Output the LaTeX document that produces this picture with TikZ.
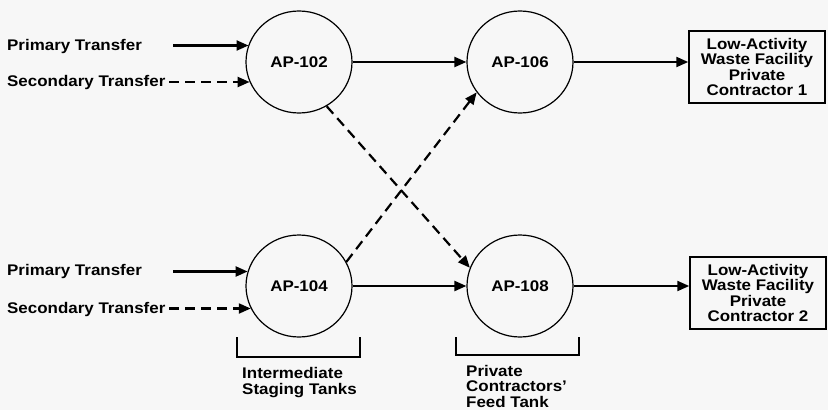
\documentclass[tikz,border=0pt]{standalone}
\usepackage{fontspec}
\setmainfont{Liberation Sans}[FakeStretch=1.1]
\usetikzlibrary{arrows.meta,shapes.geometric}
\definecolor{paper}{HTML}{F7F7F7}
\begin{document}
\begin{tikzpicture}[x=1pt,y=-1pt,
  every node/.style={font=\fontsize{15.4}{15.5}\selectfont\bfseries, inner sep=0pt},
  tank/.style={draw, ellipse, line width=1.2pt, minimum width=106pt, minimum height=102pt},
  plant/.style={draw, line width=1.5pt, minimum width=136pt, minimum height=72pt, align=center},
  lbl/.style={anchor=base west, align=left},
  flow/.style={line width=2.2pt, -{Triangle[length=12pt,width=10pt]}},
  backup/.style={flow, dash pattern=on 10pt off 6pt},
  bracket/.style={line width=1.2pt}]
  \useasboundingbox (0,0) rectangle (828,410);
  \fill[paper] (0,0) rectangle (828,410);

  % tanks
  \node[tank] (ap102) at (299,62) {AP-102};
  \node[tank] (ap106) at (520,62) {AP-106};
  \node[tank] (ap104) at (299,286) {AP-104};
  \node[tank] (ap108) at (520,286) {AP-108};

  % downstream facilities
  \node[plant] (lawa) at (757,67) {Low-Activity\\Waste Facility\\Private\\Contractor 1};
  \node[plant] (lawb) at (758,293) {Low-Activity\\Waste Facility\\Private\\Contractor 2};

  % incoming transfers
  \node[lbl] (pt1) at (7,50.7) {Primary Transfer};
  \node[lbl] (st1) at (7,86.7) {Secondary Transfer};
  \node[lbl] (pt2) at (7,275) {Primary Transfer};
  \node[lbl] (st2) at (7,313) {Secondary Transfer};
  \coordinate (pt1s) at (173,45.5);
  \coordinate (st1s) at (169,82);
  \coordinate (pt2s) at (173,271.5);
  \coordinate (st2s) at (169,308.5);

  \draw[flow]   (pt1s) -- (pt1s -| ap102.161);
  \draw[backup] (st1s) -- (st1s -| ap102.202);
  \draw[flow]   (pt2s) -- (pt2s -| ap104.164);
  \draw[backup] (st2s) -- (st2s -| ap104.205);

  % tank to tank
  \draw[flow] (ap102) -- (ap106);
  \draw[flow] (ap104) -- (ap108);
  \draw[backup] (ap102.302) -- (ap108.160);
  \draw[backup] (ap104.27) -- (ap106.215);

  % feed tanks to facilities
  \draw[flow] (ap106.east) -- (ap106.east -| lawa.west);
  \draw[flow] (ap108.east) -- (ap108.east -| lawb.west);

  % group brackets
  \coordinate (b1a) at (237,337); \coordinate (b1b) at (360,337);
  \coordinate (b2a) at (456,337); \coordinate (b2b) at (579,337);
  \draw[bracket] (b1a) -- ++(0,20) -| (b1b);
  \draw[bracket] (b2a) -- ++(0,18) -| (b2b);

  % group captions (base anchor sits on the last line)
  \node[lbl] (grp1) at (242,394) {Intermediate\\Staging Tanks};
  \node[lbl] (grp2) at (466,407) {Private\\Contractors’\\Feed Tank};
\end{tikzpicture}
\end{document}
